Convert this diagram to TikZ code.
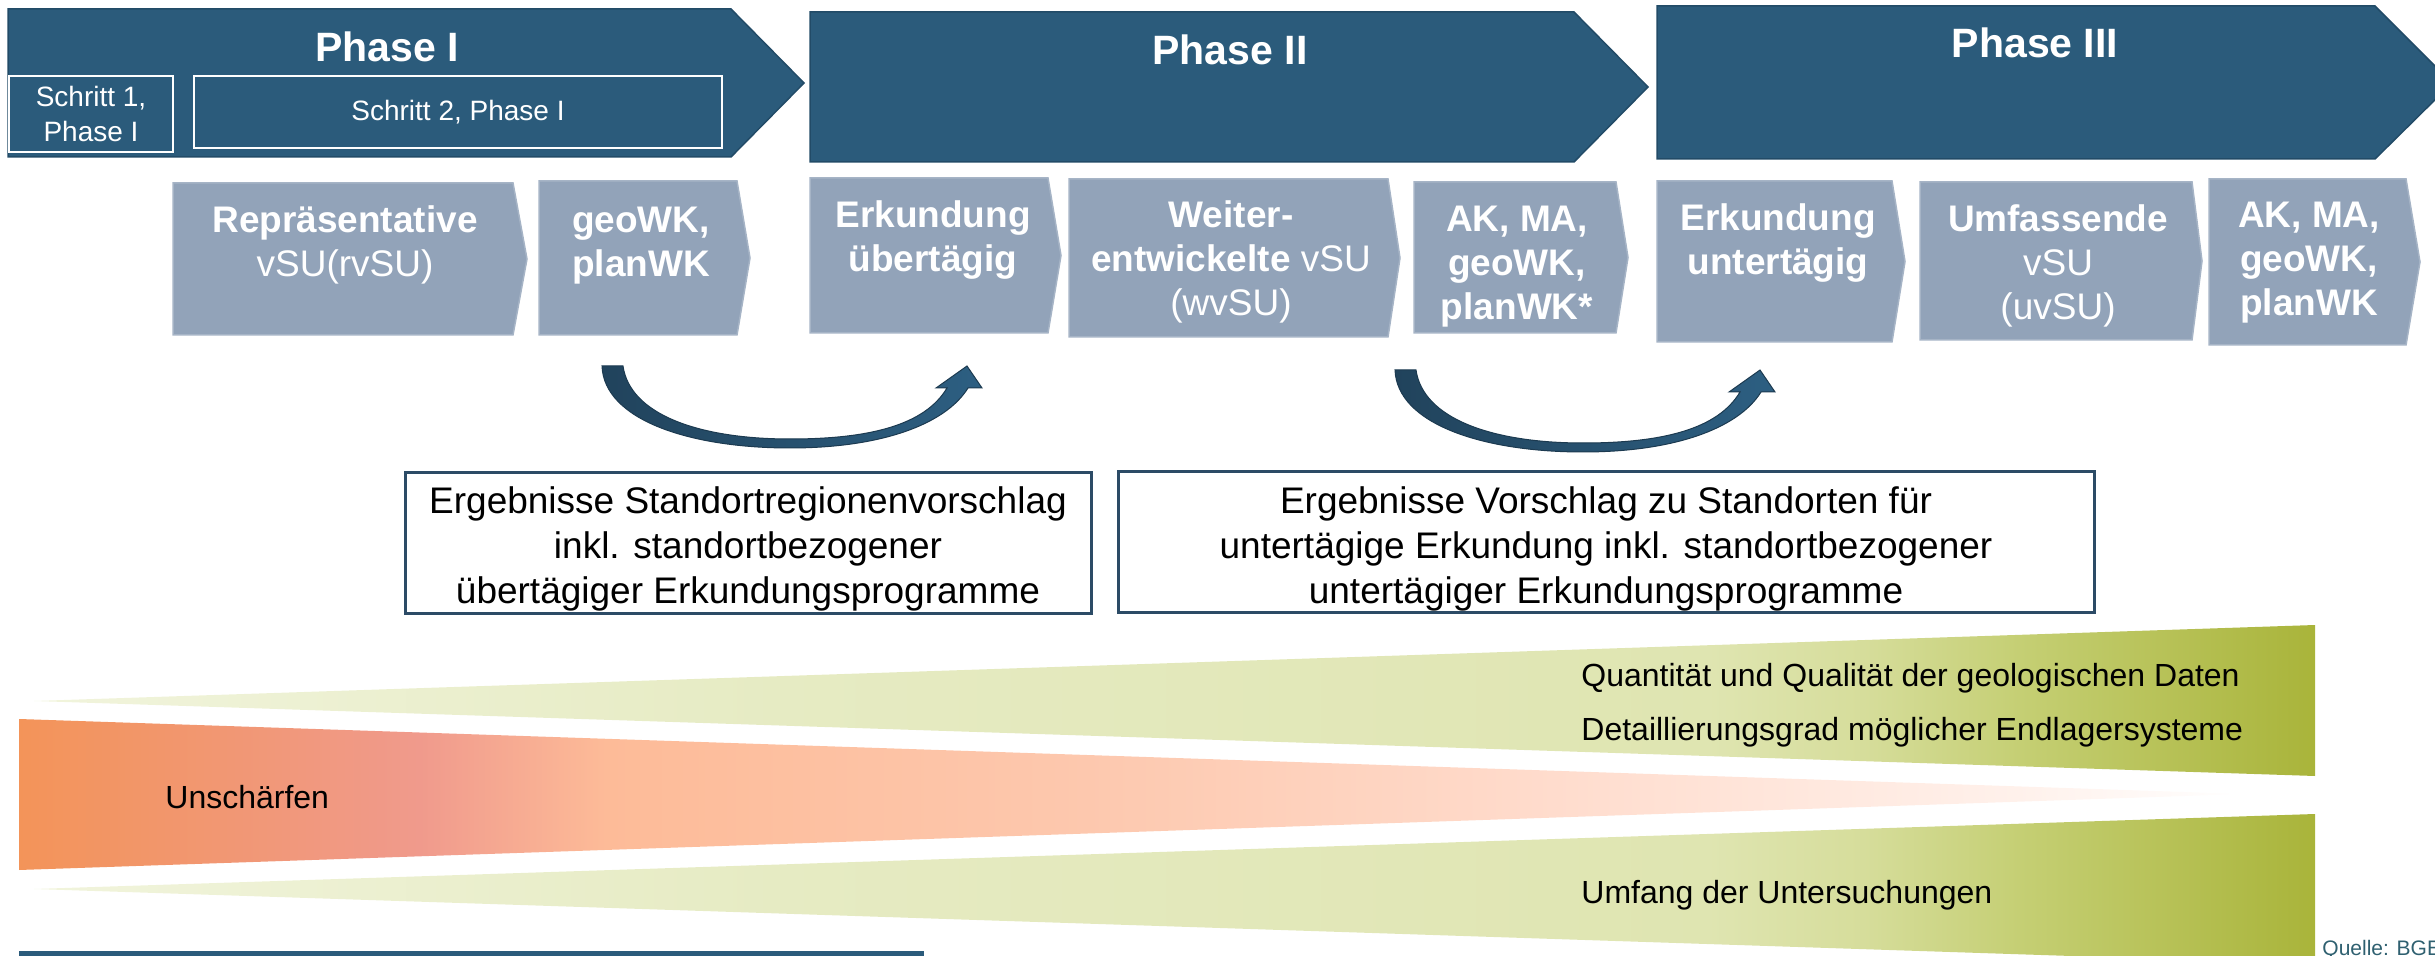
\documentclass[tikz,border=0pt]{standalone}
\usepackage{fontspec}
\setmainfont{Liberation Sans}

\definecolor{phasefill}{HTML}{2B5B7B}
\definecolor{phaseedge}{HTML}{224B67}
\definecolor{stepfill}{HTML}{92A3B9}
\definecolor{stepedge}{HTML}{A6B4C6}
\definecolor{resultedge}{HTML}{2C4B66}
\definecolor{arrowdark}{HTML}{21435C}
\definecolor{arrowlight}{HTML}{2D5F82}
\definecolor{arrowedge}{HTML}{1C3A50}
\definecolor{sourcecol}{HTML}{2F6070}
% green wedge stops
\definecolor{gA}{HTML}{F1F4DC}
\definecolor{gB}{HTML}{E6EBC3}
\definecolor{gC}{HTML}{DFE5B1}
\definecolor{gD}{HTML}{D6DD9B}
\definecolor{gE}{HTML}{C5CF74}
\definecolor{gF}{HTML}{A9B43A}
% orange wedge stops
\definecolor{oA}{HTML}{F39459}
\definecolor{oB}{HTML}{F09A8C}
\definecolor{oC}{HTML}{FDBB98}
\definecolor{oD}{HTML}{FDC8AE}
\definecolor{oE}{HTML}{FFDCCD}
\definecolor{oF}{HTML}{FFF1EB}

\pgfdeclarehorizontalshading{greenwedge}{100bp}{color(0bp)=(gA); color(25bp)=(gA); color(41.3bp)=(gB); color(61.7bp)=(gC); color(65.1bp)=(gD); color(68.5bp)=(gE); color(75bp)=(gF); color(100bp)=(gF)}
\pgfdeclarehorizontalshading{orangewedge}{100bp}{color(0bp)=(oA); color(25bp)=(oA); color(34bp)=(oB); color(38.2bp)=(oC); color(49bp)=(oD); color(59.5bp)=(oE); color(69.9bp)=(oF); color(75bp)=(white); color(100bp)=(white)}

\begin{document}
\begin{tikzpicture}[x=0.5pt,y=-0.5pt,
  phasebox/.style={fill=phasefill,draw=phaseedge,line width=0.75pt,line join=miter},
  phasetext/.style={text=white,font=\fontsize{20.5}{24}\selectfont\bfseries,inner sep=0pt},
  schritt/.style={draw=white,line width=1.25pt,text=white,align=center,
    font=\fontsize{14}{17.5}\selectfont,inner sep=0pt},
  stepbox/.style={fill=stepfill,draw=stepedge,line width=0.75pt},
  steptext/.style={text=white,align=center,font=\fontsize{18.5}{22}\selectfont,inner sep=0pt},
  resultframe/.style={draw=resultedge,line width=1.5pt,fill=white},
  resulttext/.style={align=center,font=\fontsize{18.5}{22.5}\selectfont,inner sep=0pt},
  curvearrow/.style={left color=arrowdark,right color=arrowlight,draw=arrowedge,line width=0.5pt},
  wedgetext/.style={anchor=west,inner sep=0pt,font=\fontsize{16}{19}\selectfont}]
\useasboundingbox (0,0) rectangle (2435,956);
\clip (0,0) rectangle (2435,956);

% --- phase chevrons
\path[phasebox] (8,9) -- (731,9) -- (804,83) -- (731,157) -- (8,157) -- cycle;
\path[phasebox] (810,12) -- (1574,12) -- (1648,87) -- (1574,162) -- (810,162) -- cycle;
\path[phasebox] (1657,6) -- (2375,6) -- (2452,83) -- (2375,159) -- (1657,159) -- cycle;
\node[phasetext] (ph1) at (387,47) {Phase I};
\node[phasetext] (ph2) at (1230,50) {Phase II};
\node[phasetext] (ph3) at (2035,43) {Phase III};

% --- steps inside phase I
\node[schritt,minimum width=82pt,minimum height=38pt] (s1) at (91,114) {Schritt 1,\\Phase I};
\node[schritt,minimum width=264pt,minimum height=36pt] (s2) at (458,112) {Schritt 2, Phase I};

% --- work packages
\path[stepbox] (173,183) -- (513,183) -- (527,259) -- (513,335) -- (173,335) -- cycle;
\path[stepbox] (539,181) -- (737,181) -- (750,258) -- (737,335) -- (539,335) -- cycle;
\path[stepbox] (810,178) -- (1048,178) -- (1061,255.5) -- (1048,333) -- (810,333) -- cycle;
\path[stepbox] (1069,179) -- (1388,179) -- (1400,258) -- (1388,337) -- (1069,337) -- cycle;
\path[stepbox] (1414,182) -- (1616,182) -- (1628,257.5) -- (1616,333) -- (1414,333) -- cycle;
\path[stepbox] (1657,181) -- (1892,181) -- (1905,261.5) -- (1892,342) -- (1657,342) -- cycle;
\path[stepbox] (1920,182) -- (2192,182) -- (2202,261) -- (2192,340) -- (1920,340) -- cycle;
\path[stepbox] (2209,179) -- (2406,179) -- (2420,262) -- (2406,345) -- (2209,345) -- cycle;

\node[steptext] (w1) at (345,244.5) {{\bfseries Repräsentative}\\vSU(rvSU)};
\node[steptext,font=\fontsize{18.5}{22}\selectfont\bfseries] (w2) at (641,246) {geoWK,\\planWK};
\node[steptext,font=\fontsize{18.5}{22}\selectfont\bfseries] (w3) at (933,240.5) {Erkundung\\übertägig};
\node[steptext] (w4) at (1231,262) {{\bfseries Weiter-}\\{\bfseries entwickelte} vSU\\(wvSU)};
\node[steptext,font=\fontsize{18.5}{22}\selectfont\bfseries] (w5) at (1517,266.5) {AK, MA,\\geoWK,\\planWK*};
\node[steptext,font=\fontsize{18.5}{22}\selectfont\bfseries] (w6) at (1778,243.5) {Erkundung\\untertägig};
\node[steptext] (w7) at (2058,266.3) {{\bfseries Umfassende}\\vSU\\(uvSU)};
\node[steptext,font=\fontsize{18.5}{22}\selectfont\bfseries] (w8) at (2309,263) {AK, MA,\\geoWK,\\planWK};

% --- curved transition arrows
\path[curvearrow] (602,366) .. controls (604,420) and (690,448) .. (790,448)
  .. controls (880,448) and (945,425) .. (968,388) -- (982,388) -- (967,366)
  -- (936,388) -- (947,388) .. controls (925,425) and (870,439) .. (790,439)
  .. controls (700,439) and (630,415) .. (623,366) -- cycle;
\begin{scope}[shift={(793,4)}]
\path[curvearrow] (602,366) .. controls (604,420) and (690,448) .. (790,448)
  .. controls (880,448) and (945,425) .. (968,388) -- (982,388) -- (967,366)
  -- (936,388) -- (947,388) .. controls (925,425) and (870,439) .. (790,439)
  .. controls (700,439) and (630,415) .. (623,366) -- cycle;
\end{scope}

% --- result boxes
\draw[resultframe] (405,473) rectangle (1091,613);
\node[resulttext] (r1) at (748,549) {Ergebnisse Standortregionenvorschlag\\inkl. standortbezogener\\übertägiger Erkundungsprogramme};
\draw[resultframe] (1118,472) rectangle (2094,612);
\node[resulttext] (r2) at (1606,549) {Ergebnisse Vorschlag zu Standorten für\\untertägige Erkundung inkl. standortbezogener\\untertägiger Erkundungsprogramme};

% --- trend wedges
\shade[shading=greenwedge] (34,701) -- (2315,625) -- (2315,776) -- cycle;
\shade[shading=orangewedge] (19,719) -- (2244,794) -- (19,870) -- cycle;
\shade[shading=greenwedge] (34,889) -- (2315,814) -- (2315,964) -- cycle;

\node[wedgetext] (t1) at (1581,678) {Quantität und Qualität der geologischen Daten};
\node[wedgetext] (t2) at (1581,732) {Detaillierungsgrad möglicher Endlagersysteme};
\node[wedgetext] (t3) at (1581,895) {Umfang der Untersuchungen};
\node[wedgetext] (t4) at (165,797) {Unschärfen};

% --- footer
\fill[phasefill] (19,951) rectangle (924,958);
\node[anchor=base west,inner sep=0pt,text=sourcecol,font=\fontsize{10.5}{12}\selectfont] (src) at (2322,955) {Quelle: BGE};
\end{tikzpicture}
\end{document}
